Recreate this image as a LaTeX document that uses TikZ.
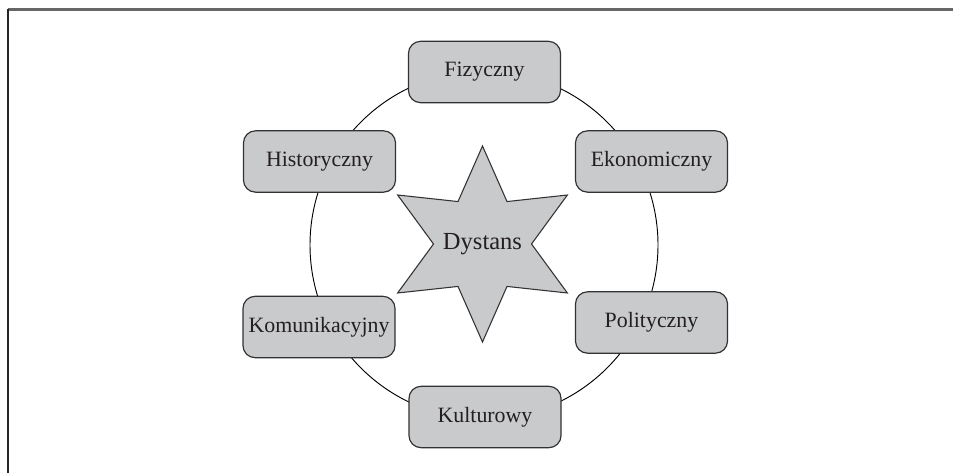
\documentclass[tikz,border=0pt]{standalone}
\usepackage{fontspec}
\setmainfont{Liberation Serif}
\definecolor{boxgray}{RGB}{201,202,204}
\definecolor{edgegray}{RGB}{50,50,52}
\definecolor{inkgray}{RGB}{35,31,32}
\tikzset{
 kind/.style={draw=edgegray,line width=0.9pt,fill=boxgray,rounded corners=9pt,
  minimum width=114pt,minimum height=46pt,inner sep=0pt,text=inkgray,
  font=\fontsize{16.4}{18}\selectfont},
 dyststar/.style={draw=edgegray,line width=0.8pt,fill=boxgray,line join=miter},
}
\begin{document}
\begin{tikzpicture}[x=0.75pt,y=-0.75pt]
 \useasboundingbox (0,0) rectangle (953,473);
 % frame, open on the right and at the bottom
 \draw[line width=1.6pt,color=black!60] (8,9.5)--(953,9.5);
 \draw[line width=1.4pt,color=black!85] (8,9)--(8,473);
 % ring
 \draw[line width=0.7pt] (484,245) circle[radius=174];
 % the six kinds
 \node[kind] (fiz) at (484.5,72) {Fizyczny};
 \node[kind] (eko) at (651.5,161.5) {Ekonomiczny};
 \node[kind] (pol) at (651.5,322.5) {Polityczny};
 \node[kind] (kul) at (485,417) {Kulturowy};
 \node[kind] (kom) at (319,327) {Komunikacyjny};
 \node[kind] (his) at (319.5,161.5) {Historyczny};
 % star
 \begin{scope}[shift={(482.5,244)}]
  \draw[dyststar] (90:98) \foreach \k [evaluate=\k as \rr using {ifthenelse(mod(\k,2)==0,98,49)}] in {1,...,11}
   {-- (90+30*\k:\rr)} -- cycle;
  \node[text=inkgray,font=\fontsize{18.4}{20}\selectfont] (dyst) at (0,0) {Dystans};
 \end{scope}
\end{tikzpicture}
\end{document}
